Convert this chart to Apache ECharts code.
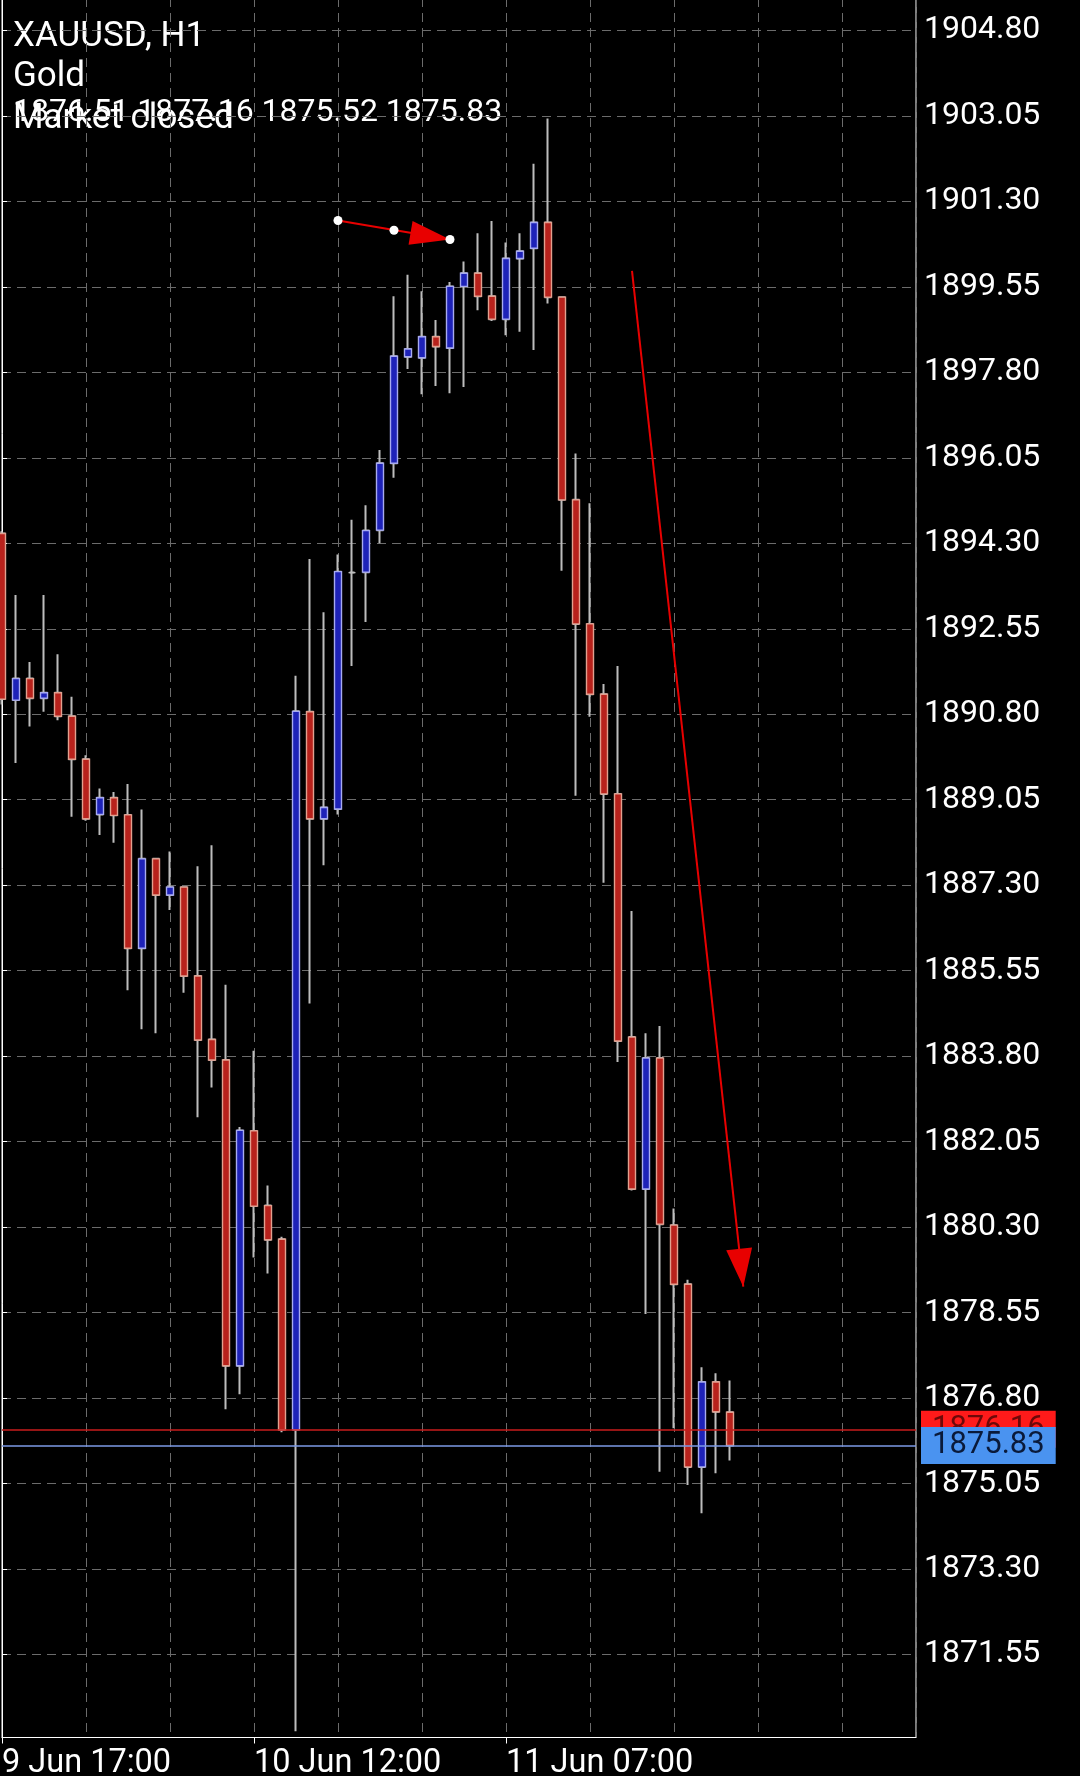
<!DOCTYPE html>
<html>
<head>
<meta charset="utf-8">
<script src="https://cdn.jsdelivr.net/npm/echarts@6/dist/echarts.min.js"></script>
<style>
html,body{margin:0;padding:0;background:#000;}
#chart{width:1080px;height:1776px;}
</style>
</head>
<body>
<div id="chart"></div>
<script>
// ---- data (XAUUSD H1) ----
const opens  = [1894.50,1891.09,1891.53,1891.13,1891.24,1890.76,1889.88,1888.75,1889.09,1888.74,
                1886.01,1887.84,1887.10,1887.26,1885.44,1884.14,1883.72,1877.46,1882.27,1880.74,
                1880.05,1876.15,1890.85,1888.66,1888.86,1893.70,1893.71,1894.57,1895.94,1898.12,
                1898.10,1898.53,1898.30,1899.56,1899.83,1899.36,1898.89,1900.13,1900.34,1900.87,
                1899.34,1895.19,1892.65,1891.21,1889.17,1884.19,1881.08,1883.76,1880.34,1879.13,
                1875.39,1877.13,1876.51];
const highs  = [1894.55,1893.24,1891.87,1893.24,1892.03,1891.16,1889.96,1889.28,1889.21,1889.37,
                1888.85,1887.86,1887.99,1887.28,1887.69,1888.12,1885.26,1882.35,1883.91,1881.15,
                1880.10,1891.59,1893.98,1892.89,1894.07,1894.78,1895.08,1896.21,1899.36,1899.80,
                1899.46,1898.87,1899.65,1900.07,1900.65,1900.90,1900.46,1900.65,1902.07,1903.00,
                1899.36,1896.14,1895.12,1891.42,1891.79,1886.77,1884.27,1884.42,1880.68,1879.22,
                1877.43,1877.31,1877.16];
const lows   = [1891.00,1889.80,1890.55,1890.85,1890.68,1888.70,1888.62,1888.33,1888.17,1885.15,
                1884.35,1884.27,1886.79,1885.10,1882.55,1883.16,1876.57,1876.88,1879.68,1879.35,
                1876.10,1869.98,1884.88,1887.71,1888.75,1891.79,1892.69,1894.30,1895.64,1897.87,
                1897.35,1897.52,1897.37,1897.50,1899.07,1898.85,1898.56,1898.63,1898.26,1899.21,
                1893.74,1889.13,1890.75,1887.35,1883.68,1881.05,1878.52,1875.29,1876.18,1875.02,
                1874.44,1875.26,1875.52];
const closes = [1891.11,1891.53,1891.13,1891.24,1890.76,1889.88,1888.66,1889.09,1888.73,1886.01,
                1887.84,1887.10,1887.26,1885.44,1884.13,1883.72,1877.46,1882.28,1880.73,1880.04,
                1876.15,1890.86,1888.66,1888.89,1893.72,1893.70,1894.56,1895.94,1898.13,1898.28,
                1898.53,1898.33,1899.56,1899.83,1899.36,1898.89,1900.13,1900.28,1900.87,1899.34,
                1895.19,1892.65,1891.21,1889.17,1884.11,1881.08,1883.76,1880.36,1879.13,1875.39,
                1877.13,1876.52,1875.83];

const timeTicks  = [0, 18, 36];
const timeLabels = ['9 Jun 17:00', '10 Jun 12:00', '11 Jun 07:00'];
const priceTicks = [1871.55,1873.30,1875.05,1876.80,1878.55,1880.30,1882.05,1883.80,1885.55,1887.30,
                    1889.05,1890.80,1892.55,1894.30,1896.05,1897.80,1899.55,1901.30,1903.05,1904.80];

const askPrice = 1876.16;
const bidPrice = 1875.83;

// drawn objects (bar index, price)
const smallArrow = [[24, 1900.91], [32, 1900.52]];
const smallArrowHandles = [[24, 1900.91], [28, 1900.71], [32, 1900.52]];
const bigArrow = [[45, 1899.88], [52.95, 1879.08]];

// ---- build ----
const wickData = opens.map((o, i) => [i, o, closes[i], lows[i], highs[i]]);
const bodyData = opens.map((o, i) => [i, o, closes[i], Math.min(o, closes[i]), Math.max(o, closes[i])]);

const FONT = 'Roboto';
const gridLine = { color: '#6c6c6c', width: 1, type: [9, 6] };

const chart = echarts.init(document.getElementById('chart'), null, { renderer: 'canvas' });

chart.setOption({
  animation: false,
  backgroundColor: '#000',
  grid: {
    left: 2, right: 164, top: -2, bottom: 38.5,
    outerBoundsMode: 'none', containLabel: false,
    show: true, borderColor: '#ffffff', borderWidth: 1, backgroundColor: '#000'
  },
  xAxis: [
    {
      type: 'value', min: 0, max: 65.286, interval: 6, position: 'bottom',
      axisLine: { show: true, lineStyle: { color: '#fff', width: 1 } },
      axisTick: { show: false },
      axisLabel: { show: false },
      splitLine: { show: true, lineStyle: gridLine }
    },
    {
      type: 'value', min: 0, max: 65.286, position: 'bottom',
      axisLine: { show: false },
      axisTick: { show: true, length: 6, customValues: timeTicks, lineStyle: { color: '#fff' } },
      axisLabel: {
        show: true, customValues: timeTicks, align: 'left', margin: 10,
        color: '#fff', fontSize: 32.5, fontFamily: FONT,
        formatter: v => timeLabels[timeTicks.indexOf(Math.round(v))] || ''
      },
      splitLine: { show: false }
    }
  ],
  yAxis: {
    type: 'value', position: 'right', min: 1869.85, max: 1905.465, scale: true,
    axisLine: { show: true, lineStyle: { color: '#fff', width: 1 } },
    axisTick: { show: true, length: 5, customValues: priceTicks, lineStyle: { color: '#fff' } },
    axisLabel: {
      customValues: priceTicks, color: '#fff', fontSize: 32, fontFamily: FONT, margin: 8,
      padding: [4, 0, 0, 0],
      formatter: v => Number(v).toFixed(2)
    },
    splitLine: { show: true, lineStyle: gridLine }
  },
  graphic: [
    { type: 'text', left: 13, top: 20, style: { text: 'XAUUSD, H1', fill: '#fff', font: '35px Roboto' } },
    { type: 'text', left: 13, top: 60, style: { text: 'Gold', fill: '#fff', font: '35px Roboto' } },
    { type: 'text', left: 13, top: 97, style: { text: opens[52].toFixed(2) + ' ' + highs[52].toFixed(2) + ' ' + lows[52].toFixed(2) + ' ' + closes[52].toFixed(2), fill: '#fff', font: '32px Roboto' } },
    { type: 'text', left: 13, top: 102, style: { text: 'Market closed', fill: '#fff', font: '35px Roboto' } }
  ],
  series: [
    {
      type: 'candlestick', name: 'wicks', xAxisIndex: 0,
      encode: { x: 0, y: [1, 2, 3, 4] },
      data: wickData,
      barWidth: 6,
      itemStyle: {
        color: '#1e22b8', color0: '#b8221c',
        borderColor: '#bdbdbd', borderColor0: '#bdbdbd', borderColorDoji: '#bdbdbd',
        borderWidth: 2
      },
      silent: true
    },
    {
      type: 'candlestick', name: 'bodies', xAxisIndex: 0,
      encode: { x: 0, y: [1, 2, 3, 4] },
      data: bodyData,
      barWidth: 8,
      itemStyle: {
        color: '#1e22b8', color0: '#b8221c',
        borderColor: '#a7aaf0', borderColor0: '#e2a08f', borderColorDoji: '#bdbdbd',
        borderWidth: 1.4
      },
      silent: true,
      markLine: {
        silent: true, symbol: 'none', animation: false,
        label: {
          show: true, position: 'end', distance: 5,
          fontSize: 31, fontFamily: FONT, lineHeight: 31, padding: [5, 11, 1, 11],
          formatter: p => Number(p.value).toFixed(2)
        },
        data: [
          { yAxis: askPrice, lineStyle: { color: '#c81c1c', width: 1.6, type: 'solid' },
            label: { backgroundColor: '#ff1a1a', color: '#6e0808' } },
          { yAxis: bidPrice, lineStyle: { color: '#7d9ae6', width: 1.6, type: 'solid' },
            label: { backgroundColor: '#4a93f0', color: '#0a1a3a' } }
        ]
      }
    },
    {
      type: 'line', name: 'arrows', xAxisIndex: 0,
      data: [],
      silent: true,
      markLine: {
        silent: true, animation: false,
        symbol: ['none', 'triangle'],
        label: { show: false },
        lineStyle: { color: '#e80000', width: 2, type: 'solid' },
        itemStyle: { color: '#ff0000' },
        data: [
          [{ coord: smallArrow[0], symbol: 'none' },
           { coord: smallArrow[1], symbol: 'triangle', symbolSize: [24, 40], symbolOffset: [0, 20] }],
          [{ coord: bigArrow[0], symbol: 'none' },
           { coord: bigArrow[1], symbol: 'triangle', symbolSize: [26, 38], symbolOffset: [0, 19] }]
        ]
      }
    },
    {
      type: 'scatter', name: 'handles', xAxisIndex: 0,
      data: smallArrowHandles,
      symbol: 'circle', symbolSize: 9,
      itemStyle: { color: '#ffffff', opacity: 1 },
      z: 20, silent: true
    }
  ]
});
</script>
</body>
</html>
